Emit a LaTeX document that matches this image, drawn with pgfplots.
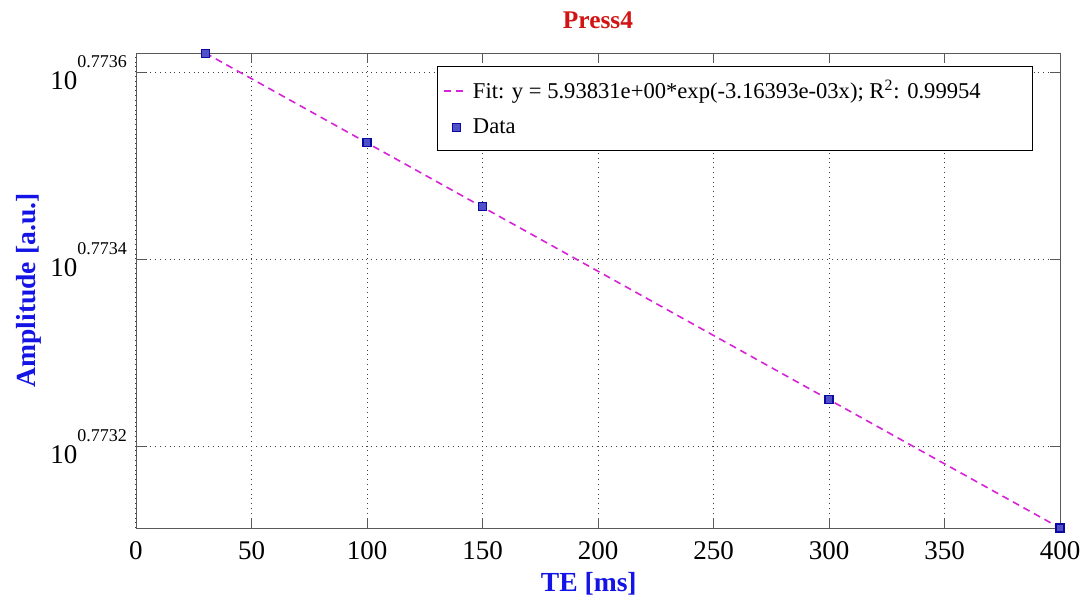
\documentclass[border=0pt]{standalone}
\usepackage{fontspec}
\setmainfont{Liberation Serif}
\usepackage{pgfplots}
\pgfplotsset{compat=1.18}
\definecolor{fitc}{RGB}{215,35,215}
\definecolor{mfill}{RGB}{80,80,200}
\definecolor{medge}{RGB}{10,10,160}
\definecolor{titlec}{RGB}{210,20,20}
\definecolor{labc}{RGB}{20,20,230}
% y values: (log10 exponent - 0.773) in units of 1e-4
\pgfplotstableread{
x y
30 6.205
100 5.250
150 4.562
300 2.500
400 1.127
}\datatab
\newcommand{\ytl}[1]{10\raisebox{11pt}{\fontsize{9}{9}\selectfont #1}}
\pgfplotsset{
  fitlegend/.style={legend image code/.code={\draw[##1] (0pt,0pt) -- (12pt,0pt);}},
  datalegend/.style={legend image code/.code={\draw[mark repeat=2,mark phase=2,##1] plot coordinates {(0pt,0pt) (6pt,0pt) (12pt,0pt)};}},
}
\begin{document}
\begin{tikzpicture}
\useasboundingbox (-68pt,-39pt) rectangle (474.5pt,264pt);
\begin{axis}[
 at={(0,0)}, anchor=south west,
 scale only axis, width=462pt, height=237.5pt,
 xmin=0, xmax=400, ymin=1.127, ymax=6.207,
 xtick={0,50,...,400},
 ytick={2,4,6},
 yticklabels={\ytl{0.7732},\ytl{0.7734},\ytl{0.7736}},
 /pgf/number format/assume math mode=true,
 tick label style={font=\fontsize{13.5}{14}\selectfont},
 xticklabel style={yshift=-3pt},
 yticklabel style={xshift=-1pt},
 tick align=inside,
 major tick length=5pt,
 xtick pos=both, ytick pos=both,
 axis line style={draw=black!65},
 every tick/.style={black!65},
 grid=major,
 major grid style={dotted, black!75, line width=0.5pt},
 every axis title shift=0pt,
 title={Press4},
 title style={at={(axis description cs:0.5,1.0526)}, anchor=base, font=\fontsize{12.7}{14}\selectfont\bfseries, text=titlec},
 xlabel={TE [ms]},
 xlabel style={at={(axis description cs:0.49,-0.1347)}, anchor=base, font=\fontsize{13.8}{15}\selectfont\bfseries, text=labc},
 ylabel={Amplitude [a.u.]},
 ylabel style={at={(axis description cs:-0.1093,0.5)}, anchor=base, font=\fontsize{13.8}{15}\selectfont\bfseries, text=labc},
 legend style={at={(rel axis cs:0.971,0.9726)}, anchor=north east, draw=black, fill=white,
   font=\fontsize{11.3}{13}\selectfont, row sep=4.5pt, inner xsep=3pt, inner ysep=5pt, line width=0.5pt},
 legend cell align=left,
]
\addplot[fitc, line width=0.8pt, dash pattern=on 3.5pt off 2.5pt, fitlegend]
  coordinates {(30,6.207) (400,1.127)};
\addlegendentry{Fit: y = 5.93831e+00*exp(-3.16393e-03x); R\textsuperscript{2}: 0.99954\rule{21pt}{0pt}}
\addplot[only marks, mark=square*, mark size=2pt, mark options={fill=mfill, draw=medge, line width=0.6pt}, datalegend]
  table[x=x,y=y] {\datatab};
\addlegendentry{Data}
\end{axis}
\end{tikzpicture}
\end{document}
